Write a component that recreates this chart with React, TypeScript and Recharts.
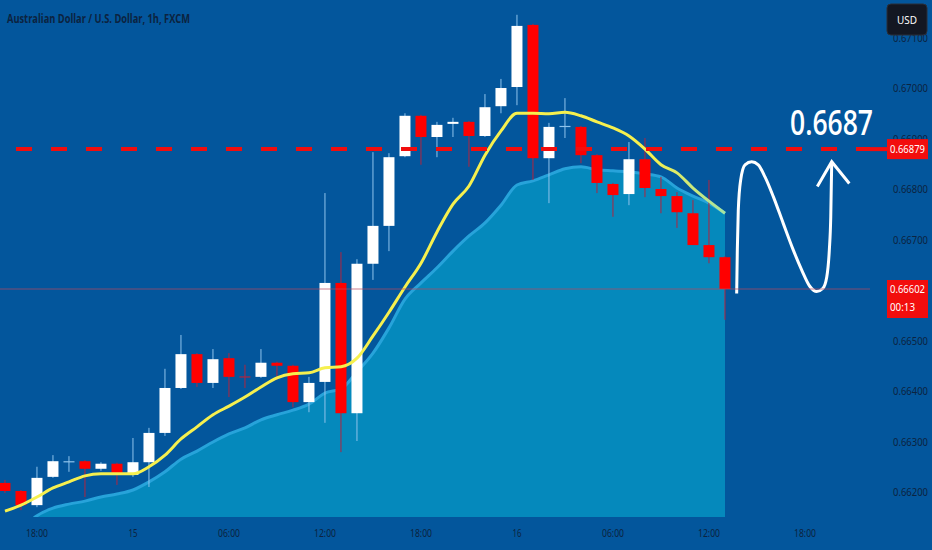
import React from "react";
import { ComposedChart, Bar, Line, Area, XAxis, YAxis, ReferenceLine } from "recharts";

const BG = "#03569c";
const RED = "#f20d0d";
const INK = "#0c2340";

const W = 932;
const H = 550;
const AXIS_W = 62;
const AXIS_H = 33;
const PLOT_W = W - AXIS_W;
const PLOT_H = H - AXIS_H;
const PRICE_MIN = 0.661505;
const PRICE_MAX = 0.671743;

// hourly AUD/USD candles, index 0 = 16:00 on the 14th
const hourIndex = [0, 1, 2, 3, 4, 5, 6, 7, 8, 9, 10, 11, 12, 13, 14, 15, 16, 17, 18, 19, 20, 21, 22, 23, 24, 25, 26, 27, 28, 29, 30, 31, 32, 33, 34, 35, 36, 37, 38, 39, 40, 41, 42, 43, 44, 45];
const opens = [0.66218, 0.66202, 0.66174, 0.6623, 0.66259, 0.66261, 0.66246, 0.66256, 0.66234, 0.66259, 0.66317, 0.66406, 0.66473, 0.66416, 0.66465, 0.66428, 0.66428, 0.66456, 0.6645, 0.66378, 0.66418, 0.66614, 0.66356, 0.66652, 0.66727, 0.66865, 0.66945, 0.66903, 0.66929, 0.66933, 0.66905, 0.66964, 0.67002, 0.67125, 0.66861, 0.66923, 0.66923, 0.66867, 0.6681, 0.6679, 0.66859, 0.668, 0.66786, 0.66752, 0.66689, 0.66665];
const highs = [0.66224, 0.66204, 0.6625, 0.66273, 0.66271, 0.66263, 0.66259, 0.66258, 0.66307, 0.66327, 0.66444, 0.66511, 0.66475, 0.66483, 0.66475, 0.66452, 0.66483, 0.66458, 0.66452, 0.66428, 0.66792, 0.66675, 0.66661, 0.66873, 0.66871, 0.6695, 0.66947, 0.66933, 0.66941, 0.66935, 0.66988, 0.67018, 0.67145, 0.67127, 0.66931, 0.6698, 0.66925, 0.66869, 0.66812, 0.66893, 0.66901, 0.66824, 0.66794, 0.66778, 0.66818, 0.66667];
const lows = [0.66198, 0.66164, 0.6617, 0.66228, 0.6624, 0.6619, 0.66242, 0.66214, 0.6623, 0.6621, 0.66311, 0.66404, 0.66408, 0.66406, 0.66388, 0.66406, 0.66426, 0.66422, 0.66368, 0.66358, 0.66337, 0.66279, 0.66301, 0.6662, 0.66677, 0.66863, 0.66848, 0.66863, 0.66903, 0.66844, 0.66903, 0.6695, 0.66966, 0.66818, 0.66772, 0.66901, 0.66851, 0.66792, 0.66745, 0.66768, 0.66784, 0.66752, 0.66723, 0.66689, 0.66653, 0.66541];
const closes = [0.66202, 0.66174, 0.66228, 0.66261, 0.6626, 0.66246, 0.66256, 0.66234, 0.66259, 0.66317, 0.66406, 0.66473, 0.66416, 0.66463, 0.66428, 0.66427, 0.66456, 0.6645, 0.66378, 0.66416, 0.66614, 0.66356, 0.66652, 0.66727, 0.66863, 0.66945, 0.66903, 0.66927, 0.66933, 0.66905, 0.66962, 0.67, 0.67123, 0.66861, 0.66923, 0.66924, 0.66867, 0.66812, 0.66788, 0.66859, 0.66802, 0.66786, 0.66754, 0.66689, 0.66665, 0.66602];

// fast moving average (yellow) and slow average (cloud)
const fastMa = [0.66162, 0.66174, 0.6619, 0.66208, 0.6622, 0.66232, 0.66236, 0.66236, 0.66236, 0.6625, 0.66273, 0.66305, 0.66329, 0.66353, 0.6637, 0.66388, 0.66408, 0.66426, 0.66434, 0.66436, 0.66446, 0.66448, 0.66465, 0.66509, 0.66556, 0.66606, 0.66653, 0.66715, 0.6677, 0.66806, 0.66867, 0.66915, 0.6695, 0.6695, 0.66949, 0.66952, 0.66945, 0.66933, 0.66921, 0.66905, 0.66879, 0.66848, 0.66832, 0.66802, 0.66776, 0.66752];
const slowMa = [null, 0.66125, 0.66153, 0.66168, 0.66176, 0.66182, 0.6619, 0.66196, 0.66204, 0.6622, 0.6624, 0.66265, 0.66281, 0.66299, 0.66315, 0.66327, 0.66343, 0.66353, 0.66362, 0.66374, 0.66396, 0.66404, 0.66438, 0.66475, 0.66525, 0.66582, 0.66614, 0.66644, 0.66677, 0.66707, 0.66733, 0.66768, 0.66808, 0.66816, 0.66828, 0.6684, 0.66844, 0.66838, 0.66836, 0.66834, 0.6683, 0.66824, 0.66802, 0.66786, 0.66772, 0.66752];

const timeTicks = [2, 8, 14, 20, 26, 32, 38, 44, 50];
const timeLabels = ["18:00", "15", "06:00", "12:00", "18:00", "16", "06:00", "12:00", "18:00"];
// 0.66600 sits under the last-price tag, so it is not listed
const priceTicks = [0.662, 0.663, 0.664, 0.665, 0.667, 0.668, 0.669, 0.67, 0.671];

const targetPrice = 0.66879;
const lastPrice = 0.66602;
const targetText = "0.6687";
const countdown = "00:13";

// hand drawn projection: dip then rally to the target
const pathT = [45.73, 45.77, 45.83, 45.98, 46.25, 46.67, 47.08, 47.5, 48.02, 48.64, 49.27, 49.79, 50.31, 50.73, 51.11, 51.36, 51.52, 51.61, 51.67];
const pathP = [0.66593, 0.66679, 0.66758, 0.66818, 0.66848, 0.66854, 0.66848, 0.66824, 0.66785, 0.66732, 0.66679, 0.6664, 0.66607, 0.66597, 0.66603, 0.66626, 0.66679, 0.66745, 0.66854];
const arrowT = [50.77, 51.67, 52.77];
const arrowP = [0.66805, 0.66854, 0.66811];

const candles = hourIndex.map((t, i) => ({
  t,
  o: opens[i],
  h: highs[i],
  l: lows[i],
  c: closes[i],
  fast: fastMa[i],
  slow: slowMa[i],
}));
const path = pathT.map((t, i) => ({ t, p: pathP[i] }));
const arrow = arrowT.map((t, i) => ({ t, p: arrowP[i] }));

const priceToY = (v: number) => (PLOT_H * (PRICE_MAX - v)) / (PRICE_MAX - PRICE_MIN);

function Candle(props: any) {
  const { x, y, width, height, payload } = props;
  if (!payload || payload.o == null) return null;
  const { o, h, l, c } = payload;
  const top = height < 0 ? y + height : y;
  const span = Math.abs(height);
  const k = span / (h - l);
  const yO = top + (h - o) * k;
  const yC = top + (h - c) * k;
  const up = c >= o;
  const cx = x + (width || 0) / 2;
  const bw = 11;
  const bodyTop = Math.min(yO, yC);
  const bodyH = Math.abs(yO - yC);
  const wick = up ? "#8fc3ec" : "#b3243f";
  return (
    <g>
      <line x1={cx} x2={cx} y1={top} y2={top + span} stroke={wick} strokeWidth={1} />
      {bodyH < 1.5 ? (
        <rect x={cx - bw / 2} y={bodyTop - 0.5} width={bw} height={1.2} fill={wick} />
      ) : (
        <rect x={cx - bw / 2} y={bodyTop} width={bw} height={bodyH} fill={up ? "#ffffff" : "#ff0000"} />
      )}
    </g>
  );
}

function TimeTick(props: any) {
  const { x, y, payload } = props;
  const idx = timeTicks.indexOf(payload.value);
  const label = timeLabels[idx] ?? "";
  return (
    <text x={x} y={y} dy={12} textAnchor="middle" fill={INK} fontSize={11} fontFamily="Noto Sans"
      textLength={label.length > 2 ? 22 : 9} lengthAdjust="spacingAndGlyphs">
      {label}
    </text>
  );
}

function PriceTick(props: any) {
  const { x, y, payload } = props;
  return (
    <text x={x} y={y} dy={4} textAnchor="start" fill={INK} fontSize={10.5} fontFamily="Noto Sans"
      textLength={35} lengthAdjust="spacingAndGlyphs">
      {payload.value.toFixed(5)}
    </text>
  );
}

function TargetText(props: any) {
  const { x, y, width } = props.viewBox;
  return (
    <text x={x + width + 3} y={y - 14} textAnchor="end" fill="#fff" fontSize={34} fontWeight={600} fontFamily="Open Sans"
      textLength={83} lengthAdjust="spacingAndGlyphs">
      {targetText}
    </text>
  );
}

export default function App() {
  const yTarget = priceToY(targetPrice);
  const yLast = priceToY(lastPrice);
  return (
    <div style={{ position: "absolute", left: 0, top: 0, width: W, height: H, background: BG }}>
      <ComposedChart width={W} height={H} data={candles} margin={{ top: 0, right: 0, bottom: 0, left: 0 }}>
        <defs>
          <linearGradient id="fastStroke" x1="0" y1="0" x2="1" y2="0">
            <stop offset="0%" stopColor="#f6f04e" />
            <stop offset="90%" stopColor="#f6f04e" />
            <stop offset="100%" stopColor="#a6e3a1" />
          </linearGradient>
        </defs>
        <XAxis dataKey="t" type="number" domain={[-0.3125, 54.0625]} allowDataOverflow ticks={timeTicks}
          axisLine={false} tickLine={false} tickMargin={2} height={AXIS_H} tick={<TimeTick />} interval={0} />
        <YAxis type="number" orientation="right" domain={[PRICE_MIN, PRICE_MAX]} allowDataOverflow ticks={priceTicks}
          axisLine={false} tickLine={false} tickMargin={17} width={AXIS_W} tick={<PriceTick />} interval={0} />
        <Area dataKey="slow" type="monotone" fill="#0589bc" fillOpacity={1} stroke="#27a3da" strokeWidth={3}
          isAnimationActive={false} dot={false} activeDot={false} />
        <Line dataKey="fast" type="monotone" stroke="url(#fastStroke)" strokeWidth={3}
          isAnimationActive={false} dot={false} activeDot={false} />
        <Bar dataKey={(d: any) => [d.l, d.h]} barSize={11} shape={<Candle />} isAnimationActive={false} />
        <Line data={path} dataKey="p" type="monotone" stroke="#ffffff" strokeWidth={3}
          isAnimationActive={false} dot={false} activeDot={false} />
        <Line data={arrow} dataKey="p" type="linear" stroke="#ffffff" strokeWidth={3}
          isAnimationActive={false} dot={false} activeDot={false} />
        <ReferenceLine y={lastPrice} stroke="#b8475f" strokeOpacity={0.7} strokeWidth={1} />
        <ReferenceLine y={targetPrice} stroke={RED} strokeWidth={4} strokeDasharray="16 19" strokeDashoffset={2}
          label={<TargetText />} />
      </ComposedChart>
      <svg width={W} height={H} style={{ position: "absolute", left: 0, top: 0, pointerEvents: "none" }}>
        <text x={7} y={23} fill={INK} fontSize={13} fontWeight={700} fontFamily="Open Sans"
          textLength={183} lengthAdjust="spacingAndGlyphs">
          Australian Dollar / U.S. Dollar, 1h, FXCM
        </text>
        <rect x={887} y={4} width={40} height={31} rx={4} fill="#131722" stroke="#2a2e39" />
        <text x={907} y={24} textAnchor="middle" fill="#ffffff" fontSize={11} fontFamily="Noto Sans"
          textLength={20} lengthAdjust="spacingAndGlyphs">
          USD
        </text>
        <line x1={PLOT_W} x2={PLOT_W + 17} y1={yTarget} y2={yTarget} stroke={RED} strokeWidth={4} />
        <rect x={PLOT_W + 17} y={yTarget - 10} width={41} height={20} fill={RED} />
        <text x={PLOT_W + 20} y={yTarget + 4} fill="#fff" fontSize={10.5} fontFamily="Noto Sans" textLength={35} lengthAdjust="spacingAndGlyphs">
          {targetPrice.toFixed(5)}
        </text>
        <rect x={PLOT_W + 17} y={yLast - 9} width={41} height={38} fill={RED} />
        <text x={PLOT_W + 20} y={yLast + 4} fill="#fff" fontSize={10.5} fontFamily="Noto Sans" textLength={35} lengthAdjust="spacingAndGlyphs">
          {lastPrice.toFixed(5)}
        </text>
        <text x={PLOT_W + 20} y={yLast + 22} fill="#fff" fontSize={10.5} fontFamily="Noto Sans" textLength={25} lengthAdjust="spacingAndGlyphs">
          {countdown}
        </text>
      </svg>
    </div>
  );
}
